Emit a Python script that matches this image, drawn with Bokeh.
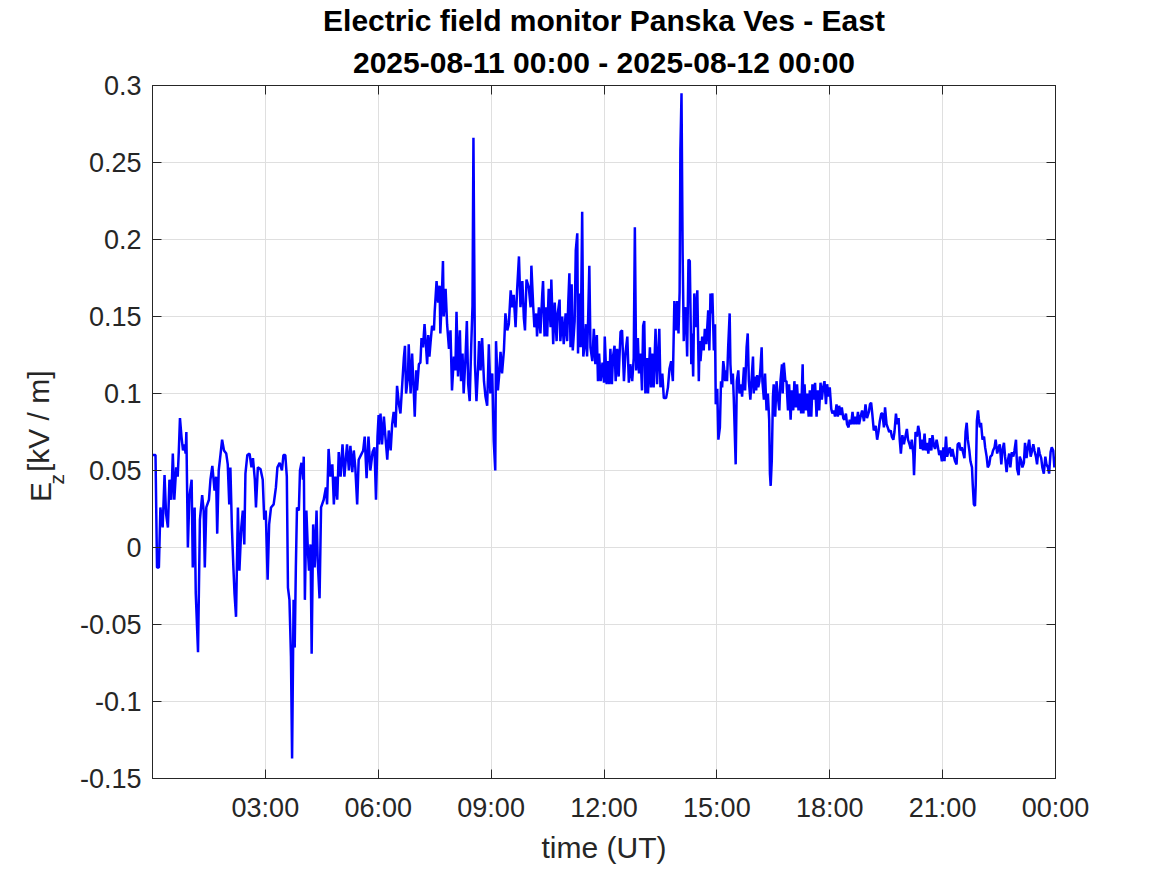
from bokeh.plotting import figure
from bokeh.models import Range1d, FixedTicker, LinearAxis, Title, CustomJSTickFormatter
from bokeh.layouts import row
from bokeh.core.properties import value
from bokeh.embed import file_html
from bokeh.resources import INLINE
import math

# ---------------- data ----------------
# time in hours UT since 2025-08-11 00:00, Ez in kV/m
hours_a = [0.00, 0.08, 0.12, 0.17, 0.21, 0.27, 0.32, 0.36, 0.41, 0.45, 0.50, 0.54, 0.58, 0.63, 0.67, 0.70,
           0.73, 0.77, 0.81, 0.85, 0.88, 0.90, 0.94, 0.98, 1.04, 1.07, 1.12, 1.15, 1.21, 1.26, 1.32, 1.36,
           1.39, 1.43, 1.50, 1.54, 1.59, 1.65, 1.69, 1.72, 1.76, 1.81, 1.85, 1.90, 1.96, 2.00, 2.04, 2.07,
           2.11, 2.15, 2.18, 2.22, 2.27, 2.31, 2.36, 2.40, 2.44, 2.47, 2.52, 2.58, 2.63, 2.67, 2.72, 2.75,
           2.80, 2.87, 2.93, 2.97, 3.01, 3.06, 3.10, 3.15, 3.22, 3.28, 3.32, 3.38, 3.44, 3.48, 3.53, 3.57,
           3.60, 3.64, 3.68, 3.71, 3.75, 3.78, 3.81, 3.84, 3.89, 3.92, 3.96, 4.00, 4.02, 4.05, 4.09, 4.13,
           4.16, 4.20, 4.23, 4.27, 4.31, 4.36, 4.39, 4.44, 4.48, 4.55, 4.61, 4.64, 4.68, 4.73, 4.78, 4.82,
           4.86, 4.91, 4.95, 5.00, 5.05, 5.10, 5.17, 5.22, 5.26, 5.31, 5.35, 5.39, 5.44, 5.48, 5.54, 5.60,
           5.64, 5.69, 5.74, 5.79, 5.85, 5.90, 5.94, 5.98, 6.01]
ez_a = [0.060, 0.060, -0.013, -0.013, 0.026, 0.013, 0.047, 0.022, 0.013, 0.044, 0.031, 0.061, 0.031, 0.052, 0.046, 0.063,
        0.084, 0.072, 0.063, 0.067, 0.061, 0.075, 0.000, 0.033, 0.044, -0.013, 0.026, -0.030, -0.068, 0.018, 0.034, 0.024,
        -0.013, 0.026, 0.031, 0.044, 0.053, 0.037, 0.046, 0.009, 0.050, 0.061, 0.070, 0.063, 0.061, 0.054, 0.028, 0.052,
        0.013, -0.013, -0.030, -0.045, 0.026, -0.015, 0.013, 0.024, 0.002, 0.048, 0.060, 0.061, 0.052, 0.058, 0.044, 0.026,
        0.052, 0.051, 0.044, 0.018, 0.024, -0.021, 0.015, 0.026, 0.028, 0.039, 0.052, 0.055, 0.050, 0.060, 0.060, 0.046,
        -0.026, -0.034, -0.071, -0.137, -0.034, -0.065, -0.013, 0.026, 0.024, 0.050, 0.055, 0.044, 0.059, -0.034, 0.024, -0.002,
        -0.015, 0.002, -0.069, 0.015, -0.013, 0.024, -0.008, -0.033, 0.026, 0.031, 0.039, 0.028, 0.064, 0.046, 0.054, 0.028,
        0.046, 0.031, 0.062, 0.046, 0.067, 0.046, 0.067, 0.050, 0.066, 0.049, 0.063, 0.052, 0.028, 0.057, 0.060, 0.063,
        0.072, 0.045, 0.072, 0.050, 0.062, 0.065, 0.031, 0.072, 0.086]

hours_b = [6.02, 6.06, 6.10, 6.15, 6.19, 6.24, 6.28, 6.33, 6.37, 6.41, 6.46, 6.50, 6.55, 6.59, 6.64, 6.68,
           6.71, 6.74, 6.79, 6.81, 6.86, 6.90, 6.95, 6.97, 7.01, 7.03, 7.08, 7.12, 7.15, 7.19, 7.23, 7.26,
           7.30, 7.33, 7.36, 7.39, 7.43, 7.48, 7.50, 7.55, 7.59, 7.63, 7.65, 7.68, 7.72, 7.74, 7.79, 7.83,
           7.88, 7.92, 7.96, 8.01, 8.05, 8.08, 8.12, 8.17, 8.20, 8.24, 8.27, 8.32, 8.355, 8.39, 8.43, 8.47,
           8.505, 8.53, 8.57, 8.61, 8.65, 8.68, 8.72, 8.76, 8.81, 8.85, 8.895, 8.94, 8.98, 9.03, 9.07, 9.11,
           9.13, 9.18, 9.21, 9.25, 9.29, 9.34, 9.38, 9.43, 9.47, 9.52, 9.56, 9.60, 9.65, 9.69, 9.74, 9.78,
           9.83, 9.87, 9.90, 9.94, 10.00]
ez_b = [0.067, 0.087, 0.067, 0.085, 0.072, 0.057, 0.076, 0.063, 0.080, 0.088, 0.078, 0.105, 0.093, 0.087, 0.107, 0.123,
        0.131, 0.100, 0.111, 0.132, 0.100, 0.126, 0.098, 0.085, 0.115, 0.102, 0.119, 0.120, 0.136, 0.130, 0.145, 0.134,
        0.119, 0.138, 0.124, 0.133, 0.144, 0.141, 0.153, 0.173, 0.159, 0.170, 0.139, 0.156, 0.186, 0.150, 0.168, 0.145,
        0.129, 0.141, 0.102, 0.124, 0.115, 0.153, 0.111, 0.141, 0.108, 0.126, 0.100, 0.124, 0.147, 0.106, 0.095, 0.130,
        0.157, 0.266, 0.119, 0.095, 0.115, 0.134, 0.115, 0.136, 0.108, 0.098, 0.092, 0.132, 0.100, 0.113, 0.069, 0.050,
        0.134, 0.102, 0.111, 0.127, 0.113, 0.128, 0.152, 0.141, 0.145, 0.167, 0.156, 0.164, 0.143, 0.167, 0.189, 0.156,
        0.173, 0.149, 0.141, 0.174, 0.169]

hours_c = [10.05, 10.07, 10.12, 10.15, 10.20, 10.22, 10.27, 10.31, 10.36, 10.38, 10.42, 10.46, 10.49, 10.53, 10.58, 10.60,
           10.65, 10.69, 10.74, 10.77, 10.82, 10.84, 10.89, 10.93, 10.98, 11.02, 11.05, 11.08, 11.11, 11.14, 11.17, 11.22,
           11.25, 11.29, 11.31, 11.34, 11.38, 11.42, 11.45, 11.48, 11.52, 11.55, 11.58, 11.61, 11.64, 11.69, 11.73, 11.77,
           11.81, 11.84, 11.87, 11.91, 11.96, 12.00, 12.02, 12.07, 12.10, 12.14, 12.17, 12.21, 12.24, 12.28, 12.31, 12.35,
           12.39, 12.44, 12.48, 12.53, 12.57, 12.62, 12.66, 12.70, 12.75, 12.79, 12.82, 12.855, 12.90, 12.93, 12.97, 13.01,
           13.04, 13.07, 13.10, 13.15, 13.17, 13.22, 13.25, 13.28, 13.32, 13.37, 13.41, 13.47, 13.50, 13.55, 13.59, 13.65,
           13.70, 13.74, 13.785, 13.83, 13.87, 13.91, 13.945, 13.98, 14.01, 14.03, 14.06, 14.09, 14.12, 14.15, 14.175, 14.21,
           14.245, 14.28, 14.32, 14.34, 14.37, 14.40, 14.44, 14.48, 14.52]
ez_c = [0.156, 0.183, 0.156, 0.143, 0.152, 0.137, 0.156, 0.139, 0.165, 0.173, 0.137, 0.156, 0.137, 0.168, 0.143, 0.174,
        0.132, 0.159, 0.134, 0.152, 0.161, 0.134, 0.150, 0.132, 0.152, 0.134, 0.159, 0.178, 0.130, 0.171, 0.128, 0.147,
        0.193, 0.204, 0.126, 0.165, 0.130, 0.218, 0.124, 0.130, 0.145, 0.124, 0.150, 0.183, 0.130, 0.121, 0.142, 0.119,
        0.138, 0.108, 0.126, 0.108, 0.120, 0.107, 0.137, 0.106, 0.121, 0.106, 0.129, 0.106, 0.124, 0.131, 0.108, 0.129,
        0.111, 0.140, 0.141, 0.108, 0.126, 0.137, 0.107, 0.119, 0.108, 0.123, 0.208, 0.115, 0.136, 0.113, 0.126, 0.102,
        0.144, 0.147, 0.100, 0.123, 0.100, 0.130, 0.104, 0.126, 0.104, 0.142, 0.106, 0.142, 0.104, 0.113, 0.097, 0.097,
        0.104, 0.116, 0.121, 0.108, 0.160, 0.141, 0.160, 0.139, 0.166, 0.258, 0.295, 0.191, 0.134, 0.154, 0.156, 0.124,
        0.187, 0.186, 0.119, 0.139, 0.111, 0.165, 0.143, 0.167, 0.108]

hours_d = [14.54, 14.565, 14.61, 14.65, 14.68, 14.72, 14.74, 14.77, 14.80, 14.83, 14.86, 14.88, 14.92, 14.95, 14.97, 15.01,
           15.04, 15.08, 15.11, 15.14, 15.17, 15.19, 15.22, 15.25, 15.27, 15.30, 15.34, 15.36, 15.39, 15.425, 15.45, 15.50,
           15.53, 15.57, 15.60, 15.64, 15.67, 15.72, 15.75, 15.79, 15.82, 15.85, 15.89, 15.92, 15.96, 15.98, 16.01, 16.045,
           16.07, 16.10, 16.13, 16.16, 16.19, 16.21, 16.25, 16.28, 16.32, 16.355, 16.39, 16.41, 16.43, 16.46, 16.49, 16.51,
           16.55, 16.585, 16.62, 16.66, 16.69, 16.73, 16.75, 16.78, 16.82, 16.85, 16.89, 16.92, 16.96, 16.99, 17.03, 17.06,
           17.10, 17.13, 17.17, 17.21, 17.24, 17.28, 17.30, 17.33, 17.365, 17.40, 17.44, 17.47, 17.51, 17.54, 17.58, 17.61,
           17.65, 17.68, 17.72, 17.755, 17.79, 17.825, 17.86, 17.90, 17.93, 17.97, 18.00, 18.04, 18.07, 18.11, 18.14, 18.18,
           18.215, 18.25, 18.29, 18.32, 18.36, 18.39, 18.43, 18.46, 18.50, 18.53, 18.57, 18.605, 18.64, 18.68, 18.71, 18.75,
           18.78]
ez_d = [0.134, 0.121, 0.137, 0.128, 0.142, 0.132, 0.141, 0.154, 0.128, 0.165, 0.152, 0.165, 0.128, 0.145, 0.093, 0.103,
        0.070, 0.078, 0.108, 0.104, 0.121, 0.117, 0.108, 0.115, 0.108, 0.130, 0.152, 0.119, 0.106, 0.113, 0.096, 0.054,
        0.108, 0.115, 0.100, 0.106, 0.098, 0.117, 0.102, 0.130, 0.139, 0.108, 0.096, 0.108, 0.124, 0.100, 0.111, 0.102,
        0.112, 0.104, 0.108, 0.117, 0.130, 0.108, 0.096, 0.113, 0.089, 0.100, 0.083, 0.048, 0.040, 0.057, 0.098, 0.106,
        0.085, 0.108, 0.098, 0.089, 0.108, 0.119, 0.100, 0.120, 0.108, 0.108, 0.089, 0.106, 0.083, 0.102, 0.089, 0.108,
        0.091, 0.106, 0.089, 0.100, 0.087, 0.119, 0.087, 0.106, 0.089, 0.100, 0.085, 0.102, 0.085, 0.106, 0.096, 0.107,
        0.085, 0.102, 0.089, 0.107, 0.096, 0.104, 0.108, 0.093, 0.106, 0.098, 0.104, 0.090, 0.087, 0.089, 0.085, 0.093,
        0.085, 0.092, 0.086, 0.091, 0.084, 0.083, 0.087, 0.080, 0.078, 0.083, 0.080, 0.088, 0.080, 0.085, 0.080, 0.088,
        0.080]

hours_e = [18.82, 18.86, 18.91, 18.95, 18.99, 19.04, 19.07, 19.10, 19.13, 19.17, 19.22, 19.26, 19.30, 19.33, 19.37, 19.40,
           19.44, 19.47, 19.51, 19.54, 19.58, 19.62, 19.65, 19.69, 19.72, 19.76, 19.79, 19.83, 19.86, 19.89, 19.93, 19.97,
           20.01, 20.05, 20.08, 20.12, 20.15, 20.18, 20.22, 20.24, 20.28, 20.32, 20.35, 20.39, 20.41, 20.45, 20.48, 20.52,
           20.55, 20.59, 20.62, 20.66, 20.70, 20.73, 20.77, 20.80, 20.84, 20.87, 20.91, 20.94, 20.98, 21.02, 21.05, 21.09,
           21.12, 21.16, 21.19, 21.23, 21.26, 21.30, 21.33, 21.37, 21.40, 21.44, 21.48, 21.51, 21.55, 21.58, 21.61, 21.64,
           21.67, 21.71, 21.74, 21.78, 21.80, 21.83, 21.86, 21.88, 21.91, 21.94, 21.96, 21.99, 22.02, 22.06, 22.10, 22.13,
           22.17, 22.20, 22.24, 22.27, 22.31, 22.34, 22.38, 22.41, 22.45, 22.49, 22.52, 22.56, 22.59, 22.63, 22.66, 22.70,
           22.73, 22.77, 22.80, 22.84, 22.88, 22.91, 22.95, 22.98, 23.02, 23.05, 23.09, 23.12, 23.16, 23.19, 23.23, 23.265,
           23.30, 23.34, 23.37, 23.41, 23.44, 23.48, 23.51, 23.55, 23.58, 23.62, 23.65, 23.69, 23.73, 23.76, 23.80, 23.83,
           23.87, 23.90, 23.94, 23.97, 24.00]
ez_e = [0.085, 0.089, 0.082, 0.093, 0.084, 0.088, 0.093, 0.094, 0.087, 0.076, 0.079, 0.070, 0.076, 0.082, 0.087, 0.087,
        0.078, 0.091, 0.080, 0.078, 0.075, 0.076, 0.072, 0.070, 0.075, 0.087, 0.080, 0.084, 0.070, 0.061, 0.073, 0.067,
        0.072, 0.077, 0.070, 0.067, 0.064, 0.070, 0.061, 0.047, 0.075, 0.072, 0.079, 0.074, 0.064, 0.070, 0.063, 0.074,
        0.063, 0.068, 0.061, 0.071, 0.063, 0.073, 0.066, 0.064, 0.070, 0.066, 0.060, 0.063, 0.056, 0.065, 0.056, 0.072,
        0.059, 0.063, 0.065, 0.059, 0.064, 0.059, 0.056, 0.054, 0.067, 0.068, 0.063, 0.065, 0.061, 0.058, 0.075, 0.081,
        0.070, 0.063, 0.056, 0.052, 0.041, 0.028, 0.027, 0.041, 0.082, 0.089, 0.084, 0.078, 0.081, 0.070, 0.072, 0.065,
        0.059, 0.052, 0.054, 0.059, 0.060, 0.063, 0.065, 0.070, 0.061, 0.065, 0.067, 0.054, 0.063, 0.068, 0.059, 0.049,
        0.056, 0.061, 0.052, 0.062, 0.059, 0.063, 0.070, 0.051, 0.047, 0.059, 0.056, 0.052, 0.055, 0.068, 0.058, 0.065,
        0.070, 0.059, 0.062, 0.067, 0.063, 0.059, 0.054, 0.065, 0.061, 0.058, 0.052, 0.048, 0.059, 0.054, 0.052, 0.048,
        0.062, 0.065, 0.063, 0.052, 0.059]

hours = hours_a + hours_b + hours_c + hours_d + hours_e
ez = ez_a + ez_b + ez_c + ez_d + ez_e

x_ticks = [3, 6, 9, 12, 15, 18, 21, 24]
y_ticks = [-0.15, -0.1, -0.05, 0, 0.05, 0.1, 0.15, 0.2, 0.25, 0.3]
title_line1 = "Electric field monitor Panska Ves - East"
title_line2 = "2025-08-11 00:00 - 2025-08-12 00:00"
x_label = "time (UT)"
y_label_main = "E"
y_label_sub = "z"
y_label_unit = "[kV / m]"

# ---------------- layout constants ----------------
FONT = "Liberation Sans"
DARK = "#262626"
TOTAL_W, TOTAL_H = 1165, 873
LEFT_W = 72

# ---------------- main figure ----------------
p = figure(width=TOTAL_W - LEFT_W, height=TOTAL_H, x_range=Range1d(0, 24), y_range=Range1d(-0.15, 0.3),
           output_backend="svg", toolbar_location=None,
           min_border_left=152 - LEFT_W, min_border_right=TOTAL_W - 1055, min_border_top=85,
           min_border_bottom=TOTAL_H - 778)
p.background_fill_color = "white"
p.border_fill_color = "white"
p.outline_line_color = DARK
p.outline_line_width = 1

p.line(hours, ez, line_color="#0000ff", line_width=2.5)

xax = p.xaxis[0]
yax = p.yaxis[0]
xax.ticker = FixedTicker(ticks=x_ticks)
xax.formatter = CustomJSTickFormatter(code="var h = Math.round(tick) % 24; return (h < 10 ? '0' : '') + h + ':00';")
yax.ticker = FixedTicker(ticks=y_ticks)
yax.formatter = CustomJSTickFormatter(code="var s = tick.toFixed(2); if (s.indexOf('.') >= 0) { s = s.replace(/0+$/, '').replace(/\\.$/, ''); } if (s == '-0') { s = '0'; } return s;")

top_axis = LinearAxis(ticker=FixedTicker(ticks=x_ticks), major_label_text_color=None,
                      formatter=CustomJSTickFormatter(code="return '';"))
right_axis = LinearAxis(ticker=FixedTicker(ticks=y_ticks), major_label_text_color=None,
                        formatter=CustomJSTickFormatter(code="return '';"))
p.add_layout(top_axis, "above")
p.add_layout(right_axis, "right")

for ax in [xax, yax, top_axis, right_axis]:
    ax.axis_line_color = DARK
    ax.axis_line_width = 1
    ax.major_tick_line_color = DARK
    ax.major_tick_in = 9
    ax.major_tick_out = 0
    ax.minor_tick_line_color = None
    ax.major_label_text_font = FONT
top_axis.major_label_standoff = 0
right_axis.major_label_standoff = 0

for ax in [xax, yax]:
    ax.major_label_text_font_size = "27px"
    ax.major_label_text_color = DARK
xax.major_label_standoff = 14
yax.major_label_standoff = 11

xax.axis_label = x_label
xax.axis_label_text_font = FONT
xax.axis_label_text_font_size = "30px"
xax.axis_label_text_font_style = "normal"
xax.axis_label_text_color = DARK
xax.axis_label_standoff = 5

p.xgrid.ticker = FixedTicker(ticks=x_ticks)
p.ygrid.ticker = FixedTicker(ticks=y_ticks)
p.xgrid.grid_line_color = "#dfdfdf"
p.ygrid.grid_line_color = "#dfdfdf"

# two-line bold title: first added sits next to the plot
p.add_layout(Title(text=title_line2, align="center", text_font=FONT, text_font_size="30px",
                   text_font_style="bold", text_color="black", standoff=14), "above")
p.add_layout(Title(text=title_line1, align="center", text_font=FONT, text_font_size="30px",
                   text_font_style="bold", text_color="black", standoff=0), "above")

# ---------------- y label panel (E with subscript z) ----------------
lab = figure(width=LEFT_W, height=TOTAL_H, x_range=Range1d(0, LEFT_W), y_range=Range1d(0, TOTAL_H),
             output_backend="svg", toolbar_location=None, x_axis_type=None, y_axis_type=None,
             min_border=0, min_border_left=0, min_border_right=0, min_border_top=0, min_border_bottom=0)
lab.outline_line_color = None
lab.background_fill_color = "white"
lab.border_fill_color = "white"
rot = math.pi / 2
lab.text(x=[40], y=[TOTAL_H - 512], text=[y_label_main], angle=rot, text_align="center",
         text_baseline="middle", text_font=value(FONT), text_font_size=value("30px"), text_color=DARK)
lab.text(x=[56], y=[TOTAL_H - 496], text=[y_label_sub], angle=rot, text_align="center",
         text_baseline="middle", text_font=value(FONT), text_font_size=value("21px"), text_color=DARK)
lab.text(x=[38], y=[TOTAL_H - 423], text=[y_label_unit], angle=rot, text_align="center",
         text_baseline="middle", text_font=value(FONT), text_font_size=value("30px"), text_color=DARK)

layout = row(lab, p)
open("out.html", "w").write(file_html(layout, INLINE))
